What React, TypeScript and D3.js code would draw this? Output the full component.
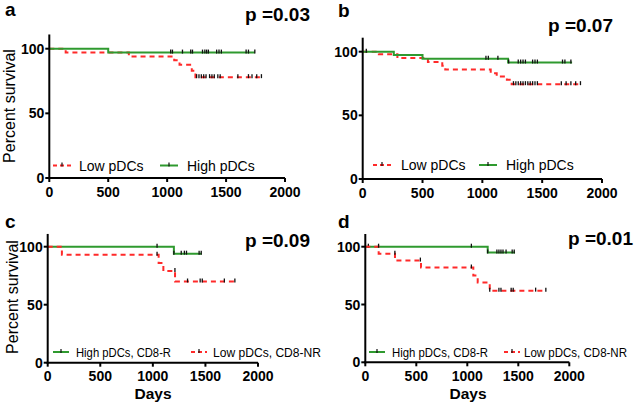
import React from "react";
import * as d3 from "d3";

const xTicks = [0, 500, 1000, 1500, 2000];
const yTicks = [0, 50, 100];

// Panel a
const lowA_t = [0, 139, 675, 1060, 1105, 1209, 1240];
const lowA_s = [100, 97, 94, 91, 87.5, 83, 78];
const lowA_end = 1820;
const lowA_cens = [1250, 1270, 1290, 1310, 1330, 1360, 1380, 1400, 1430, 1450, 1600, 1690, 1720, 1760, 1800];
const highA_t = [0, 500];
const highA_s = [100, 97];
const highA_end = 1744;
const highA_cens = [1030, 1045, 1130, 1200, 1215, 1300, 1320, 1335, 1350, 1420, 1440, 1460, 1670, 1690, 1744];

// Panel b
const lowB_t = [0, 135, 290, 545, 665, 690, 1070, 1120, 1205, 1245];
const lowB_s = [100, 98, 95, 92, 89, 86, 83, 80.5, 78, 74.5];
const lowB_end = 1830;
const lowB_cens = [1260, 1280, 1300, 1320, 1340, 1360, 1380, 1400, 1420, 1440, 1460, 1660, 1700, 1740, 1780, 1820];
const highB_t = [0, 260, 500, 1215];
const highB_s = [100, 97.5, 94.5, 91.5];
const highB_end = 1750;
const highB_cens = [30, 1030, 1050, 1130, 1220, 1300, 1320, 1340, 1360, 1420, 1440, 1460, 1670, 1690, 1740];

// Panel c
const highC_t = [0, 1200];
const highC_s = [100, 94];
const highC_end = 1464;
const highC_cens = [1040, 1200, 1270, 1300, 1320, 1440, 1460];
const lowC_t = [0, 135, 1055, 1100, 1211];
const lowC_s = [100, 93, 86, 79, 70];
const lowC_end = 1780;
const lowC_cens = [1040, 1210, 1330, 1450, 1470, 1680, 1780];

// Panel d
const highD_t = [0, 1200];
const highD_s = [100, 95];
const highD_end = 1468;
const highD_cens = [30, 1040, 1200, 1290, 1310, 1330, 1350, 1380, 1440, 1460];
const lowD_t = [0, 131, 291, 546, 1059, 1102, 1220];
const lowD_s = [100, 94, 88, 82, 75, 69, 62];
const lowD_end = 1772;
const lowD_cens = [130, 290, 540, 1040, 1220, 1310, 1330, 1430, 1450, 1670, 1770];

const RED = "#ff2a2a";
const GREEN = "#2f9a2f";
const FONT = "Arial, 'Liberation Sans', sans-serif";

type Series = { t: number[]; s: number[]; end: number; cens: number[]; color: string; dashed: boolean; name: string };

function survAt(sr: Series, d: number) {
  let v = sr.s[0];
  for (let i = 0; i < sr.t.length; i++) if (sr.t[i] <= d) v = sr.s[i];
  return v;
}

type PanelProps = {
  x0: number; x1: number; y0: number; y100: number;
  letter: string; letterX: number; letterY: number;
  p: string; pX: number; pY: number;
  series: Series[];
  legendY: number;
  legendFont: number;
  legend: { sx: number; tx: number; sw: number; tl?: number }[];
  ylabel?: { x: number; y: number };
  xlabel?: { x: number; y: number };
};

function Panel(pp: PanelProps) {
  const x = d3.scaleLinear().domain([0, 2000]).range([pp.x0, pp.x1]);
  const y = d3.scaleLinear().domain([0, 100]).range([pp.y0, pp.y100]);
  const line = d3.line<[number, number]>().x((d) => x(d[0])).y((d) => y(d[1])).curve(d3.curveStepAfter);
  return (
    <g>
      {pp.series.map((sr, i) => {
        const pts: [number, number][] = sr.t.map((t, j) => [t, sr.s[j]] as [number, number]);
        pts.push([sr.end, sr.s[sr.s.length - 1]]);
        return (
          <g key={i}>
            <path d={line(pts) || ""} fill="none" stroke={sr.color} strokeWidth={2}
              strokeDasharray={sr.dashed ? "5,4" : undefined} />
            {sr.cens.map((c, k) => (
              <line key={k} x1={x(c)} x2={x(c)} y1={y(survAt(sr, c)) - 3} y2={y(survAt(sr, c)) + 1}
                stroke="#111" strokeWidth={1.3} />
            ))}
          </g>
        );
      })}
      {/* axes */}
      <line x1={pp.x0} x2={pp.x0} y1={pp.y0 + 1} y2={y(111)} stroke="#000" strokeWidth={2} />
      <line x1={pp.x0 - 1} x2={pp.x1} y1={pp.y0} y2={pp.y0} stroke="#000" strokeWidth={2} />
      {xTicks.map((t) => (
        <g key={t}>
          <line x1={x(t)} x2={x(t)} y1={pp.y0} y2={pp.y0 + 4} stroke="#000" strokeWidth={2} />
          <text x={x(t)} y={pp.y0 + 18.5} textAnchor="middle" fontFamily={FONT} fontWeight="bold" fontSize={14}>{t}</text>
        </g>
      ))}
      {yTicks.map((t) => (
        <g key={t}>
          <line x1={pp.x0 - 4} x2={pp.x0} y1={y(t)} y2={y(t)} stroke="#000" strokeWidth={2} />
          <text x={pp.x0 - 5} y={y(t) + 5} textAnchor="end" fontFamily={FONT} fontWeight="bold" fontSize={14}>{t}</text>
        </g>
      ))}
      {/* legend */}
      {pp.series.map((sr, i) => (
        <g key={"lg" + i}>
          <line x1={pp.legend[i].sx} x2={pp.legend[i].sx + pp.legend[i].sw} y1={pp.legendY} y2={pp.legendY}
            stroke={sr.color} strokeWidth={2} strokeDasharray={sr.dashed ? "4,3" : undefined} />
          <line x1={pp.legend[i].sx + pp.legend[i].sw / 2} x2={pp.legend[i].sx + pp.legend[i].sw / 2}
            y1={pp.legendY - 3} y2={pp.legendY + 1} stroke="#111" strokeWidth={1.2} />
          <text x={pp.legend[i].tx} y={pp.legendY + pp.legendFont * 0.36} fontFamily={FONT}
            fontSize={pp.legendFont} fill="#000"
            textLength={pp.legend[i].tl} lengthAdjust={pp.legend[i].tl ? "spacingAndGlyphs" : undefined}>{sr.name}</text>
        </g>
      ))}
      <text x={pp.letterX} y={pp.letterY} fontFamily={FONT} fontWeight="bold" fontSize={19}>{pp.letter}</text>
      <text x={pp.pX} y={pp.pY} fontFamily={FONT} fontWeight="bold" fontSize={19}>{pp.p}</text>
      {pp.ylabel && (
        <text transform={`translate(${pp.ylabel.x},${pp.ylabel.y}) rotate(-90)`} textAnchor="middle"
          fontFamily={FONT} fontSize={16}>Percent survival</text>
      )}
      {pp.xlabel && (
        <text x={pp.xlabel.x} y={pp.xlabel.y} textAnchor="middle" fontFamily={FONT} fontWeight="bold" fontSize={15.5}>Days</text>
      )}
    </g>
  );
}

export default function App() {
  const mk = (t: number[], s: number[], end: number, cens: number[], color: string, dashed: boolean, name: string): Series =>
    ({ t, s, end, cens, color, dashed, name });
  return (
    <div style={{ position: "absolute", left: 0, top: 0 }}>
      <svg width={636} height={402} style={{ display: "block", background: "#fff" }}>
        <Panel x0={49.3} x1={285} y0={178} y100={48.7} letter="a" letterX={5} letterY={16}
          p="p =0.03" pX={245} pY={21}
          series={[
            mk(lowA_t, lowA_s, lowA_end, lowA_cens, RED, true, "Low pDCs"),
            mk(highA_t, highA_s, highA_end, highA_cens, GREEN, false, "High pDCs"),
          ]}
          legendY={165.5} legendFont={14} legend={[{ sx: 53, tx: 79, sw: 18 }, { sx: 160, tx: 187, sw: 18 }]}
          ylabel={{ x: 15, y: 106 }} />
        <Panel x0={362.7} x1={602} y0={179} y100={51.7} letter="b" letterX={338} letterY={17}
          p="p =0.07" pX={548} pY={32}
          series={[
            mk(lowB_t, lowB_s, lowB_end, lowB_cens, RED, true, "Low pDCs"),
            mk(highB_t, highB_s, highB_end, highB_cens, GREEN, false, "High pDCs"),
          ]}
          legendY={165} legendFont={14} legend={[{ sx: 373, tx: 401, sw: 18 }, { sx: 479, tx: 506, sw: 18 }]} />
        <Panel x0={47.7} x1={258} y0={362.7} y100={246.7} letter="c" letterX={5} letterY={228}
          p="p =0.09" pX={245} pY={247}
          series={[
            mk(highC_t, highC_s, highC_end, highC_cens, GREEN, false, "High pDCs, CD8-R"),
            mk(lowC_t, lowC_s, lowC_end, lowC_cens, RED, true, "Low pDCs, CD8-NR"),
          ]}
          legendY={352} legendFont={13.5} legend={[{ sx: 53, tx: 76, sw: 16, tl: 95 }, { sx: 191, tx: 213, sw: 16, tl: 108 }]}
          ylabel={{ x: 18, y: 297 }} xlabel={{ x: 153, y: 398.5 }} />
        <Panel x0={365.3} x1={569.3} y0={362.3} y100={246.7} letter="d" letterX={338} letterY={228}
          p="p =0.01" pX={568} pY={245}
          series={[
            mk(highD_t, highD_s, highD_end, highD_cens, GREEN, false, "High pDCs, CD8-R"),
            mk(lowD_t, lowD_s, lowD_end, lowD_cens, RED, true, "Low pDCs, CD8-NR"),
          ]}
          legendY={352} legendFont={13.5} legend={[{ sx: 369, tx: 392, sw: 16, tl: 96 }, { sx: 504, tx: 524, sw: 16, tl: 103 }]}
          xlabel={{ x: 468, y: 398.5 }} />
      </svg>
    </div>
  );
}
